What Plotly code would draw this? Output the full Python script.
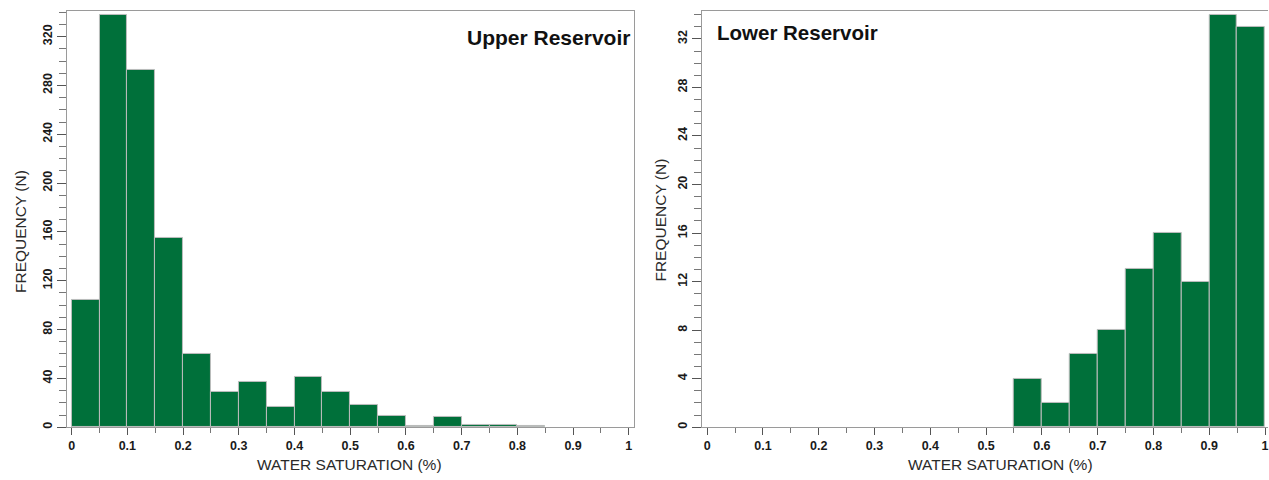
import plotly.graph_objects as go

# ---- data ----
bin_width = 0.05
upper_bin_start = [0.00, 0.05, 0.10, 0.15, 0.20, 0.25, 0.30, 0.35, 0.40, 0.45,
                   0.50, 0.55, 0.60, 0.65, 0.70, 0.75, 0.80]
upper_counts = [104, 338, 293, 155, 60, 29, 37, 17, 41, 29,
                18, 9, 1, 8, 2, 2, 1]

lower_bin_start = [0.55, 0.60, 0.65, 0.70, 0.75, 0.80, 0.85, 0.90, 0.95]
lower_counts = [4, 2, 6, 8, 13, 16, 12, 34, 33]

x_tick_vals = [0, 0.1, 0.2, 0.3, 0.4, 0.5, 0.6, 0.7, 0.8, 0.9, 1]
x_tick_text = ["0", "0.1", "0.2", "0.3", "0.4", "0.5", "0.6", "0.7", "0.8", "0.9", "1"]
upper_y_ticks = [0, 40, 80, 120, 160, 200, 240, 280, 320]
lower_y_ticks = [0, 4, 8, 12, 16, 20, 24, 28, 32]

BAR_COLOR = "#00703a"
EDGE = "#bdbdbd"
AXIS = "#9a9a9a"
FONT = "Liberation Sans"
W, H = 1269, 480

fig = go.Figure()
fig.add_trace(go.Bar(x=upper_bin_start, y=upper_counts, width=bin_width, offset=0,
                     marker=dict(color=BAR_COLOR, line=dict(color=EDGE, width=1)),
                     xaxis="x", yaxis="y", showlegend=False))
fig.add_trace(go.Bar(x=lower_bin_start, y=lower_counts, width=bin_width, offset=0,
                     marker=dict(color=BAR_COLOR, line=dict(color=EDGE, width=1)),
                     xaxis="x2", yaxis="y2", showlegend=False))

tickfont = dict(family=FONT, size=12.5, color="#1a1a1a", weight="bold")

def xaxis(domain, rng, anchor):
    return dict(domain=domain, range=rng, anchor=anchor, tickvals=x_tick_vals,
                ticktext=x_tick_text, ticks="outside", ticklen=7, tickcolor="#555",
                tickwidth=1, minor=dict(dtick=0.05, tick0=0, ticks="outside", ticklen=5,
                                        tickcolor="#777", tickwidth=1),
                showline=True, linecolor=AXIS, linewidth=1, mirror=True,
                showgrid=False, zeroline=False, tickfont=tickfont, fixedrange=True,
                ticklabeloverflow="allow")

def yaxis(domain, rng, anchor, vals, minor_dt, mirror):
    return dict(domain=domain, range=rng, anchor=anchor, tickvals=vals,
                ticks="outside", ticklen=9, tickcolor="#555", tickwidth=1,
                minor=dict(dtick=minor_dt, tick0=0, ticks="outside", ticklen=7,
                           tickcolor="#777", tickwidth=1),
                tickangle=-90, showline=True, linecolor=AXIS, linewidth=1, mirror=mirror,
                showgrid=False, zeroline=False, tickfont=tickfont, fixedrange=True)

ydom = [(H - 429) / H, (H - 11) / H]
fig.update_layout(
    width=W, height=H, margin=dict(l=0, r=0, t=0, b=0),
    paper_bgcolor="white", plot_bgcolor="white", bargap=0,
    xaxis=xaxis([67 / W, 634 / W], [-0.0084, 1.0084], "y"),
    yaxis=yaxis(ydom, [0, 341], "x", upper_y_ticks, 10, True),
    xaxis2=xaxis([702.3 / W, 1.0], [-0.0097, 1.0053], "y2"),
    yaxis2=yaxis(ydom, [0, 34.3], "x2", lower_y_ticks, 1, False),
)

title_font = dict(family=FONT, size=15.5, color="#2a2a2a")
ann = [
    dict(text="<b>Upper Reservoir</b>", x=632 / W, y=(H - 38) / H, xanchor="right",
         yanchor="middle", font=dict(family=FONT, size=21, color="#111")),
    dict(text="<b>Lower Reservoir</b>", x=716 / W, y=(H - 33) / H, xanchor="left",
         yanchor="middle", font=dict(family=FONT, size=20.5, color="#111")),
    dict(text="WATER SATURATION (%)", x=255 / W, y=(H - 466) / H, xanchor="left",
         yanchor="middle", font=title_font),
    dict(text="WATER SATURATION (%)", x=907 / W, y=(H - 466) / H, xanchor="left",
         yanchor="middle", font=title_font),
    dict(text="FREQUENCY (N)", x=20 / W, y=(H - 232) / H, xanchor="center",
         yanchor="middle", textangle=-90, font=title_font),
    dict(text="FREQUENCY (N)", x=661 / W, y=(H - 221) / H, xanchor="center",
         yanchor="middle", textangle=-90, font=title_font),
]
for a in ann:
    a.update(xref="paper", yref="paper", showarrow=False)
fig.update_layout(annotations=ann)

fig.write_html("out.html")
